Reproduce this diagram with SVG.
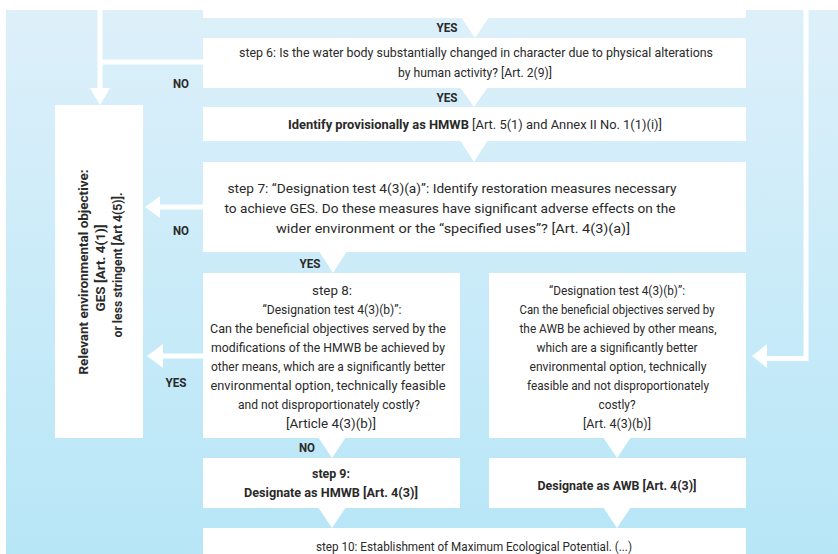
<svg xmlns="http://www.w3.org/2000/svg" width="838" height="554" viewBox="0 0 838 554">
<style>
.t{font-family:Roboto,"Liberation Sans",sans-serif;font-size:13.5px;fill:#2a2a2a;text-anchor:middle}
.b{font-weight:bold}
.lb{font-family:Roboto,"Liberation Sans",sans-serif;font-size:13px;font-weight:bold;fill:#2a2a2a;text-anchor:middle}
.box{fill:#ffffff}
.ln{fill:none;stroke:#ffffff;stroke-width:5}
.ah{fill:#ffffff}
</style>
<defs>
<linearGradient id="bg" x1="0" y1="0" x2="0" y2="1">
<stop offset="0" stop-color="#ddf0fa"/>
<stop offset="1" stop-color="#b7e6f7"/>
</linearGradient>
</defs>
<rect x="0" y="0" width="838" height="554" fill="#ffffff"/>
<rect x="6" y="10" width="832" height="544" fill="url(#bg)"/>

<g id="connectors">
<path class="ln" d="M100 10 V90"/>
<path class="ln" d="M203 62 H98"/>
<polygon class="ah" points="90,88 110,88 100,105"/>
<path class="ln" d="M203 207 H158"/>
<polygon class="ah" points="160,196 160,218 145,207"/>
<path class="ln" d="M203 356 H160"/>
<polygon class="ah" points="163,344 163,368 147,356"/>
<path class="ln" d="M806 10 V358.5 H764"/>
<polygon class="ah" points="767,344 767,368 752,356"/>
<polygon class="ah" points="461,17 489,17 475,38"/>
<polygon class="ah" points="460,87 488,87 474,107"/>
<polygon class="ah" points="460,140 488,140 474,162"/>
<polygon class="ah" points="319,251 347,251 333,273"/>
<polygon class="ah" points="318,437 346,437 332,458"/>
<polygon class="ah" points="603,437 631,437 617,458"/>
<polygon class="ah" points="318,507 346,507 332,528"/>
<polygon class="ah" points="603,507 631,507 617,528"/>
</g>

<g id="labels">
<text class="lb" x="447" y="32" textLength="21" lengthAdjust="spacingAndGlyphs">YES</text>
<text class="lb" x="181" y="88" textLength="16" lengthAdjust="spacingAndGlyphs">NO</text>
<text class="lb" x="447" y="102" textLength="21" lengthAdjust="spacingAndGlyphs">YES</text>
<text class="lb" x="181" y="235" textLength="16" lengthAdjust="spacingAndGlyphs">NO</text>
<text class="lb" x="310" y="268" textLength="21" lengthAdjust="spacingAndGlyphs">YES</text>
<text class="lb" x="176" y="387" textLength="21" lengthAdjust="spacingAndGlyphs">YES</text>
<text class="lb" x="307" y="452" textLength="16" lengthAdjust="spacingAndGlyphs">NO</text>
</g>

<g id="top-box"><rect class="box" x="203" y="0" width="543" height="18"/></g>

<g id="step6">
<rect class="box" x="203" y="38" width="543" height="50"/>
<text class="t" x="476" y="57" textLength="474" lengthAdjust="spacingAndGlyphs">step 6: Is the water body substantially changed in character due to physical alterations</text>
<text class="t" x="475" y="77" textLength="154" lengthAdjust="spacingAndGlyphs">by human activity? [Art. 2(9)]</text>
</g>

<g id="identify-hmwb">
<rect class="box" x="203" y="107" width="543" height="34"/>
<text class="t" x="475" y="129" textLength="374" lengthAdjust="spacingAndGlyphs"><tspan class="b">Identify provisionally as HMWB</tspan> [Art. 5(1) and Annex II No. 1(1)(i)]</text>
</g>

<g id="step7">
<rect class="box" x="203" y="162" width="543" height="90"/>
<text class="t" x="452" y="192.5" textLength="449" lengthAdjust="spacingAndGlyphs">step 7: “Designation test 4(3)(a)”: Identify restoration measures necessary</text>
<text class="t" x="450" y="212.5" textLength="451" lengthAdjust="spacingAndGlyphs">to achieve GES. Do these measures have significant adverse effects on the</text>
<text class="t" x="453" y="232.5" textLength="354" lengthAdjust="spacingAndGlyphs">wider environment or the “specified uses”? [Art. 4(3)(a)]</text>
</g>

<g id="environmental-objective">
<rect class="box" x="55" y="105" width="88" height="333"/>
<text class="t b" transform="translate(88,272) rotate(-90)" x="0" y="0" textLength="205" lengthAdjust="spacingAndGlyphs">Relevant environmental objective:</text>
<text class="t b" transform="translate(105,268) rotate(-90)" x="0" y="0" textLength="87" lengthAdjust="spacingAndGlyphs">GES [Art. 4(1)]</text>
<text class="t b" transform="translate(122,265) rotate(-90)" x="0" y="0" textLength="145" lengthAdjust="spacingAndGlyphs">or less stringent [Art 4(5)].</text>
</g>

<g id="step8">
<rect class="box" x="203" y="273" width="257" height="165"/>
<text class="t" x="332" y="294.5" textLength="40" lengthAdjust="spacingAndGlyphs">step 8:</text>
<text class="t" x="332" y="313.5" textLength="139" lengthAdjust="spacingAndGlyphs">“Designation test 4(3)(b)”:</text>
<text class="t" x="328" y="332.5" textLength="236" lengthAdjust="spacingAndGlyphs">Can the beneficial objectives served by the</text>
<text class="t" x="328" y="351.5" textLength="234" lengthAdjust="spacingAndGlyphs">modifications of the HMWB be achieved by</text>
<text class="t" x="328" y="370.5" textLength="234" lengthAdjust="spacingAndGlyphs">other means, which are a significantly better</text>
<text class="t" x="328" y="389.5" textLength="235" lengthAdjust="spacingAndGlyphs">environmental option, technically feasible</text>
<text class="t" x="329" y="408.5" textLength="182" lengthAdjust="spacingAndGlyphs">and not disproportionately costly?</text>
<text class="t" x="331" y="427.5" textLength="90" lengthAdjust="spacingAndGlyphs">[Article 4(3)(b)]</text>
</g>

<g id="awb-test">
<rect class="box" x="489" y="273" width="257" height="165"/>
<text class="t" x="617" y="294.5" textLength="136" lengthAdjust="spacingAndGlyphs">“Designation test 4(3)(b)”:</text>
<text class="t" x="617" y="313.5" textLength="195" lengthAdjust="spacingAndGlyphs">Can the beneficial objectives served by</text>
<text class="t" x="618" y="332.5" textLength="197" lengthAdjust="spacingAndGlyphs">the AWB be achieved by other means,</text>
<text class="t" x="617" y="351.5" textLength="161" lengthAdjust="spacingAndGlyphs">which are a significantly better</text>
<text class="t" x="618" y="370.5" textLength="177" lengthAdjust="spacingAndGlyphs">environmental option, technically</text>
<text class="t" x="618" y="389.5" textLength="182" lengthAdjust="spacingAndGlyphs">feasible and not disproportionately</text>
<text class="t" x="617" y="408.5" textLength="37" lengthAdjust="spacingAndGlyphs">costly?</text>
<text class="t" x="617" y="427.5" textLength="68" lengthAdjust="spacingAndGlyphs">[Art. 4(3)(b)]</text>
</g>

<g id="step9">
<rect class="box" x="203" y="458" width="257" height="50"/>
<text class="t b" x="331" y="477.5" textLength="38" lengthAdjust="spacingAndGlyphs">step 9:</text>
<text class="t b" x="331" y="496.5" textLength="174" lengthAdjust="spacingAndGlyphs">Designate as HMWB [Art. 4(3)]</text>
</g>

<g id="designate-awb">
<rect class="box" x="489" y="458" width="257" height="50"/>
<text class="t b" x="617" y="489.5" textLength="159" lengthAdjust="spacingAndGlyphs">Designate as AWB [Art. 4(3)]</text>
</g>

<g id="step10">
<rect class="box" x="203" y="528" width="543" height="26"/>
<text class="t" x="474" y="551" textLength="316" lengthAdjust="spacingAndGlyphs">step 10: Establishment of Maximum Ecological Potential. (...)</text>
</g>
</svg>
